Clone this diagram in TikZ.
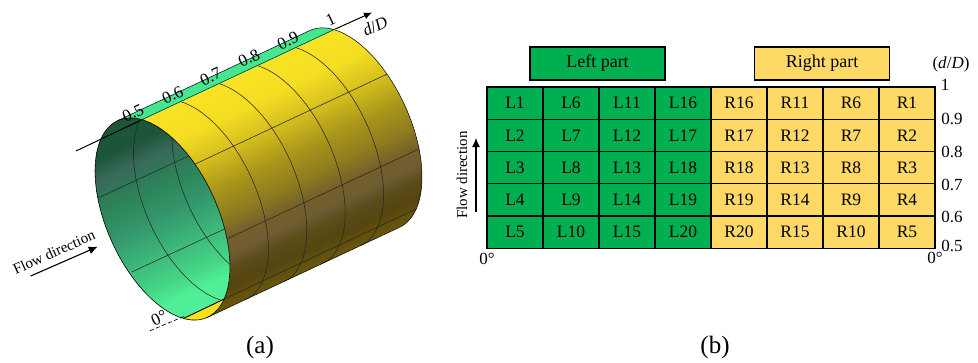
\documentclass[tikz,border=0pt]{standalone}
\usepackage{fontspec}
\setmainfont{Liberation Serif}
\usetikzlibrary{arrows.meta,positioning}
\usepackage{xcolor}
\definecolor{cellgreen}{HTML}{00B050}
\definecolor{cellyellow}{HTML}{FFD966}
\definecolor{striptop}{HTML}{46E690}
\definecolor{lensyellow}{HTML}{FBE01C}
\definecolor{oa}{HTML}{6A5A0A}
\definecolor{ob}{HTML}{554510}
\definecolor{oc}{HTML}{5C4C1A}
\definecolor{od}{HTML}{6E5C33}
\definecolor{oe}{HTML}{74602A}
\definecolor{of}{HTML}{8F7C1F}
\definecolor{og}{HTML}{A8951A}
\definecolor{oh}{HTML}{D8C21E}
\definecolor{oi}{HTML}{F5DE22}
\definecolor{oj}{HTML}{FAE324}
\definecolor{ia}{HTML}{52F29A}
\definecolor{ib}{HTML}{50EE96}
\definecolor{ic}{HTML}{45D585}
\definecolor{id}{HTML}{33936A}
\definecolor{ie}{HTML}{2E8A5C}
\definecolor{ih}{HTML}{2F7A58}
\definecolor{if}{HTML}{39695A}
\definecolor{ig}{HTML}{1C5539}
\pgfdeclareverticalshading{outerband}{100bp}{color(0bp)=(oa); color(26bp)=(oa); color(30.4bp)=(ob); color(33.7bp)=(oc); color(36.7bp)=(od); color(40bp)=(oe); color(44.6bp)=(of); color(50.4bp)=(og); color(58bp)=(oh); color(64.1bp)=(oi); color(71.1bp)=(oj); color(100bp)=(oj)}
\pgfdeclareverticalshading{innerband}{100bp}{color(0bp)=(ia); color(26bp)=(ia); color(32.6bp)=(ib); color(36.6bp)=(ic); color(51.1bp)=(id); color(54.8bp)=(ie); color(59.3bp)=(ih); color(63bp)=(if); color(67.4bp)=(ig); color(100bp)=(ig)}
\newcommand{\ringpt}[3]{({162.5+#1*38.4+67.5*cos(#2)},{219-#1*18+48*cos(#2)+89*sin(#2)}) coordinate (#3)}
\newcommand{\ringarc}[3]{plot[domain=#2:#3,samples=60,variable=\t] ({162.5+#1*38.4+67.5*cos(\t)},{219-#1*18+48*cos(\t)+89*sin(\t)})}
\newcommand{\ringto}[3]{-- plot[domain=#2:#3,samples=60,variable=\t] ({162.5+#1*38.4+67.5*cos(\t)},{219-#1*18+48*cos(\t)+89*sin(\t)})}
\tikzset{
  leftcell/.style={draw,line width=1.2pt,fill=cellgreen,minimum width=56pt,minimum height=32.25pt,inner sep=0pt,font=\fontsize{17.5}{19}\selectfont},
  rightcell/.style={leftcell,fill=cellyellow},
  partbox/.style={draw,line width=1.2pt,minimum width=135pt,minimum height=33pt,inner sep=0pt,font=\fontsize{18}{20}\selectfont},
  ticklabel/.style={inner sep=0pt,font=\fontsize{17}{19}\selectfont},
  sublabel/.style={inner sep=0pt,font=\fontsize{25}{27}\selectfont},
  gridline/.style={line width=0.55pt,black!85},
  flowarrow/.style={line width=1.1pt,-{Latex[length=9pt,width=8pt]}}
}
\begin{document}
\begin{tikzpicture}[x=1pt,y=-1pt]
  \useasboundingbox (0,0) rectangle (978,362);
  % cylinder
  \begin{scope}
    \clip \ringarc{0}{-107}{48.3} \ringto{5}{48.3}{-107} -- cycle;
    \begin{scope}[transform canvas={rotate around={25.1:(260,170)}}]
      \shade[shading=outerband] (-200,56.4) rectangle (720,286.4);
    \end{scope}
  \end{scope}
  \fill[striptop] \ringarc{0}{-131.7}{-107} \ringto{5}{-107}{-131.7} -- cycle;
  \begin{scope}
    \clip \ringarc{0}{0}{360} -- cycle;
    \begin{scope}[transform canvas={rotate around={25.1:(260,170)}}]
      \shade[shading=innerband] (-200,56.4) rectangle (720,286.4);
    \end{scope}
    \draw[gridline] \ringarc{1}{0}{360};
    \draw[gridline] \ringarc{2}{0}{360};
    \draw[gridline] (98,198) -- (290,109);
    \draw[gridline] (131.7,272) -- (323.7,183);
  \end{scope}
  \fill[lensyellow] \ringarc{0}{24}{72} -- cycle;
  \foreach \k in {1,...,4} \draw[gridline] \ringarc{\k}{-107}{48.3};
  \path \ringpt{0}{-61.2}{fronta} \ringpt{5}{-61.2}{backa};
  \path \ringpt{0}{-17}{frontb} \ringpt{5}{-17}{backb};
  \path \ringpt{0}{24}{frontc} \ringpt{5}{24}{backc};
  \path \ringpt{0}{48.3}{frontlow} \ringpt{5}{48.3}{backlow};
  \path \ringpt{0}{-131.7}{frontup} \ringpt{5}{-131.7}{backup};
  \path \ringpt{0}{72}{lensend};
  \draw[gridline] (fronta) -- (backa);
  \draw[gridline] (frontb) -- (backb);
  \draw[gridline] (frontc) -- (backc);
  \draw[line width=0.6pt] \ringarc{0}{-180}{180};
  \draw[line width=0.5pt] \ringarc{5}{-131.7}{48.3};
  \draw[line width=0.5pt] (frontlow) -- (backlow);
  \draw[line width=0.5pt] (frontup) -- (backup);
  \draw[line width=0.9pt] (lensend) -- (frontc);
  % axis and labels of the cylinder
  \coordinate (axisstart) at (76,151);
  \coordinate (axisin) at (143.3,119);
  \coordinate (axisout) at (335.3,29);
  \coordinate (axistip) at (372,12.5);
  \draw[line width=1pt] (axisstart) -- (axisin);
  \draw[line width=0.4pt] (axisin) -- (axisout);
  \draw[line width=1pt,-{Latex[length=8pt,width=7pt]}] (axisout) -- (axistip);
  \node[ticklabel,rotate=25] (tick5) at (133,113) {0.5};
  \node[ticklabel,rotate=25] (tick6) at (172.7,95) {0.6};
  \node[ticklabel,rotate=25] (tick7) at (210.7,76.7) {0.7};
  \node[ticklabel,rotate=25] (tick8) at (249,58) {0.8};
  \node[ticklabel,rotate=25] (tick9) at (288,40.7) {0.9};
  \node[ticklabel,rotate=25] (tick10) at (330.7,20) {1};
  \node[ticklabel,rotate=25] (axislabel) at (375,26) {\textit{d}/\textit{D}};
  \coordinate (flowstart) at (30.7,276);
  \coordinate (flowtip) at (97.7,246.7);
  \draw[flowarrow] (flowstart) -- (flowtip);
  \node[inner sep=0pt,rotate=24,font=\fontsize{15}{17}\selectfont] (flowa) at (54,252) {Flow direction};
  \coordinate (zerostart) at (150,330.7);
  \coordinate (zeroend) at (185,316);
  \draw[line width=0.7pt,dash pattern=on 4pt off 2.5pt] (zerostart) -- (zeroend);
  \node[ticklabel,rotate=25] (zeroa) at (159,318) {0\textdegree};
  \node[sublabel] (capa) at (260,347) {(a)};
  % grid
  \foreach \col in {0,...,3} \foreach \row in {1,...,5} {
    \pgfmathtruncatemacro{\numl}{5*\col+\row}
    \pgfmathtruncatemacro{\numr}{5*(3-\col)+\row}
    \node[leftcell] (L\numl) at ({515+56*\col},{87+32.25*(\row-0.5)}) {L\numl};
    \node[rightcell] (R\numr) at ({739+56*\col},{87+32.25*(\row-0.5)}) {R\numr};
  }
  \node[partbox,fill=cellgreen] (leftpart) at (597.5,63.5) {Left part};
  \node[partbox,fill=cellyellow] (rightpart) at (822,63.5) {Right part};
  \node[ticklabel] (dD) at (951,64) {(\textit{d}/\textit{D})};
  \node[ticklabel] (gridtick10) at (945,85) {1};
  \node[ticklabel] (gridtick9) at (952,119) {0.9};
  \node[ticklabel] (gridtick8) at (952,152) {0.8};
  \node[ticklabel] (gridtick7) at (952,185) {0.7};
  \node[ticklabel] (gridtick6) at (952,217) {0.6};
  \node[ticklabel] (gridtick5) at (952,246) {0.5};
  \node[ticklabel] (zeroleft) at (487,259) {0\textdegree};
  \node[ticklabel] (zeroright) at (935,258) {0\textdegree};
  \coordinate (upstart) at (476,212);
  \coordinate (uptip) at (476,138);
  \draw[flowarrow] (upstart) -- (uptip);
  \node[inner sep=0pt,rotate=90,font=\fontsize{15}{17}\selectfont] (flowb) at (462,175) {Flow direction};
  \node[sublabel] (capb) at (715,347) {(b)};
\end{tikzpicture}
\end{document}
